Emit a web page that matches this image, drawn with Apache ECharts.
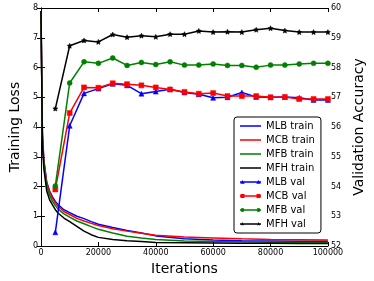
<!DOCTYPE html>
<html><head><meta charset="utf-8">
<script src="https://cdn.jsdelivr.net/npm/echarts@6/dist/echarts.min.js"></script>
<style>html,body{margin:0;padding:0;background:#fff}#c{width:374px;height:281px}</style>
</head><body><div id="c"></div>
<script>
var trainIters = [0,500,1000,2000,3000,4000,5000,6000,8000,10000,12500,15000,17500,20000,25000,30000,35000,40000,50000,60000,70000,80000,90000,100000];
var mlbTrain = [7.9,3.8,2.9,2.15,1.85,1.65,1.5,1.38,1.22,1.12,1.0,0.92,0.82,0.73,0.62,0.52,0.44,0.34,0.24,0.2,0.18,0.17,0.16,0.16];
var mcbTrain = [7.9,3.7,2.85,2.1,1.8,1.6,1.45,1.33,1.16,1.06,0.93,0.84,0.76,0.69,0.58,0.5,0.43,0.36,0.3,0.27,0.24,0.22,0.21,0.2];
var mfbTrain = [7.9,3.6,2.75,2.0,1.7,1.5,1.36,1.24,1.08,0.97,0.84,0.75,0.65,0.56,0.44,0.33,0.27,0.22,0.17,0.15,0.14,0.13,0.12,0.12];
var mfhTrain = [7.9,3.4,2.6,1.85,1.55,1.38,1.22,1.1,0.94,0.82,0.66,0.5,0.38,0.29,0.22,0.18,0.15,0.12,0.11,0.1,0.09,0.09,0.08,0.08];

var valIters = [5000,10000,15000,20000,25000,30000,35000,40000,45000,50000,55000,60000,65000,70000,75000,80000,85000,90000,95000,100000];
var mlbVal = [52.46,56.04,57.13,57.29,57.45,57.4,57.12,57.19,57.27,57.16,57.1,56.98,57.0,57.16,57.01,57.0,57.01,56.98,56.91,56.91];
var mcbVal = [53.9,56.47,57.33,57.32,57.47,57.44,57.4,57.33,57.26,57.18,57.12,57.14,57.04,57.04,57.04,57.0,57.01,56.94,56.94,56.94];
var mfbVal = [54.02,57.48,58.19,58.14,58.32,58.07,58.17,58.1,58.19,58.08,58.08,58.12,58.07,58.07,58.01,58.08,58.08,58.12,58.14,58.14];
var mfhVal = [56.62,58.73,58.91,58.86,59.11,59.02,59.07,59.03,59.12,59.12,59.23,59.19,59.2,59.19,59.27,59.32,59.24,59.19,59.19,59.19];

var xTicks = [0,20000,40000,60000,80000,100000];
var lossTicks = [0,1,2,3,4,5,6,7,8];
var accTicks = [52,53,54,55,56,57,58,59,60];

function pairs(xs, ys){ return xs.map(function(x,i){return [x, ys[i]];}); }
var FONT = 'DejaVu Sans';
var star = 'path://M0,-10 L2.9,-4 9.5,-3.1 4.7,1.5 5.9,8.1 0,5 -5.9,8.1 -4.7,1.5 -9.5,-3.1 -2.9,-4Z';

// legend icons (42x20 box, drawn at 21x10)
var ANCH = 'M0,0 L0.01,0 Z M42,20 L41.99,20 Z ';
var LINE = 'M0,8.6 L42,8.6 L42,11.4 L0,11.4 Z ';
function triM(cx){ return 'M'+cx+',6 L'+(cx+4.5)+',13.5 L'+(cx-4.5)+',13.5 Z '; }
function sqM(cx){ return 'M'+(cx-4)+',6 L'+(cx+4)+',6 L'+(cx+4)+',14 L'+(cx-4)+',14 Z '; }
function cirM(cx){ return 'M'+(cx-4)+',10 A4,4 0 1,1 '+(cx+4)+',10 A4,4 0 1,1 '+(cx-4)+',10 Z '; }
function starM(cx){
  var p=[[0,-10],[2.9,-4],[9.5,-3.1],[4.7,1.5],[5.9,8.1],[0,5],[-5.9,8.1],[-4.7,1.5],[-9.5,-3.1],[-2.9,-4]];
  return p.map(function(q,i){return (i?'L':'M')+(cx+q[0]*0.4).toFixed(2)+','+(10+q[1]*0.4).toFixed(2);}).join(' ')+' Z ';
}
var lineIcon = 'path://'+ANCH+LINE;
function valIcon(f){ return 'path://'+ANCH+LINE+f(5)+f(37); }

function trainSeries(name, data, color){
  return {name:name, type:'line', xAxisIndex:0, yAxisIndex:0, data:pairs(trainIters,data), symbol:'none', showSymbol:false,
    lineStyle:{color:color, width:1.5}, itemStyle:{color:color}, animation:false, z:2};
}
function valSeries(name, data, color, symbol, size){
  return {name:name, type:'line', xAxisIndex:0, yAxisIndex:1, data:pairs(valIters,data), symbol:symbol, symbolSize:size, showSymbol:true,
    lineStyle:{color:color, width:1.5}, itemStyle:{color:color, borderColor:color, borderWidth:0.5}, animation:false, z:3};
}

var chart = echarts.init(document.getElementById('c'), null, {renderer:'canvas'});
chart.setOption({
  backgroundColor:'#fff',
  animation:false,
  grid:{left:30, right:36, top:8, bottom:33},
  textStyle:{fontFamily:FONT},
  legend:{
    orient:'vertical', left:234, top:117, padding:[4,6,4,6], itemGap:4, itemWidth:21, itemHeight:10,
    borderColor:'#000', borderWidth:1, borderRadius:3, backgroundColor:'#fff',
    itemStyle:{borderWidth:0},
    textStyle:{fontFamily:FONT, fontSize:10, color:'#000', lineHeight:10},
    data:[
      {name:'MLB train', icon:lineIcon},
      {name:'MCB train', icon:lineIcon},
      {name:'MFB train', icon:lineIcon},
      {name:'MFH train', icon:lineIcon},
      {name:'MLB val', icon:valIcon(triM)},
      {name:'MCB val', icon:valIcon(sqM)},
      {name:'MFB val', icon:valIcon(cirM)},
      {name:'MFH val', icon:valIcon(starM)}
    ]
  },
  xAxis:[{
    type:'value', min:0, max:100000, interval:20000, position:'bottom',
    name:'Iterations', nameLocation:'middle', nameGap:16, nameTextStyle:{fontFamily:FONT, fontSize:14, color:'#000'},
    axisLine:{lineStyle:{color:'#000', width:1}}, axisTick:{inside:true, length:4, lineStyle:{color:'#000'}},
    axisLabel:{fontFamily:FONT, fontSize:8, color:'#000', margin:3, formatter:function(v){return xTicks.indexOf(v)>=0?String(v):'';}},
    splitLine:{show:false}
  },{
    type:'value', min:0, max:100000, interval:20000, position:'top',
    axisLine:{lineStyle:{color:'#000', width:1}}, axisTick:{inside:true, length:4, lineStyle:{color:'#000'}},
    axisLabel:{show:false}, splitLine:{show:false}
  }],
  yAxis:[{
    type:'value', min:0, max:8, interval:1, position:'left',
    name:'Training Loss', nameLocation:'middle', nameGap:16, nameTextStyle:{fontFamily:FONT, fontSize:14, color:'#000'},
    axisLine:{show:true, lineStyle:{color:'#000', width:1}}, axisTick:{inside:true, length:4, lineStyle:{color:'#000'}},
    axisLabel:{fontFamily:FONT, fontSize:8, color:'#000', margin:3, formatter:function(v){return lossTicks.indexOf(v)>=0?String(v):'';}},
    splitLine:{show:false}
  },{
    type:'value', min:52, max:60, interval:1, position:'right',
    name:'Validation Accuracy', nameLocation:'middle', nameGap:20, nameRotate:90, nameTextStyle:{fontFamily:FONT, fontSize:14, color:'#000'},
    axisLine:{show:true, lineStyle:{color:'#000', width:1}}, axisTick:{inside:true, length:4, lineStyle:{color:'#000'}},
    axisLabel:{fontFamily:FONT, fontSize:8, color:'#000', margin:3, formatter:function(v){return accTicks.indexOf(v)>=0?String(v):'';}},
    splitLine:{show:false}
  }],
  series:[
    trainSeries('MLB train', mlbTrain, '#0000ff'),
    trainSeries('MCB train', mcbTrain, '#ff0000'),
    trainSeries('MFB train', mfbTrain, '#008000'),
    trainSeries('MFH train', mfhTrain, '#000000'),
    valSeries('MLB val', mlbVal, '#0000ff', 'triangle', 5),
    valSeries('MCB val', mcbVal, '#ff0000', 'rect', 5),
    valSeries('MFB val', mfbVal, '#008000', 'circle', 5),
    valSeries('MFH val', mfhVal, '#000000', star, 5)
  ]
});
</script></body></html>
